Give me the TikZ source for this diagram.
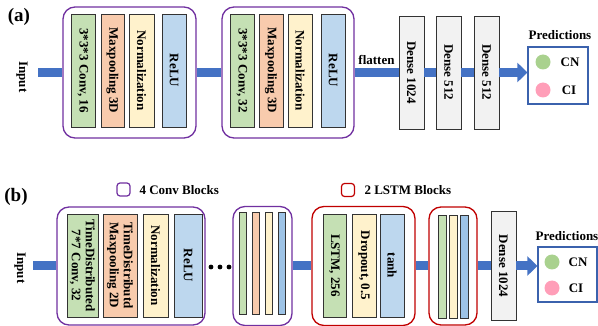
\documentclass[tikz,border=0pt]{standalone}
\usepackage{fontspec}
\setmainfont{Liberation Serif}
\usetikzlibrary{arrows.meta,positioning}

\definecolor{convg}{HTML}{C5E0B4}
\definecolor{poolo}{HTML}{F8CBAD}
\definecolor{normy}{HTML}{FFF2CC}
\definecolor{relub}{HTML}{BDD7EE}
\definecolor{thinb}{HTML}{9DC3E6}
\definecolor{densg}{HTML}{F2F2F2}
\definecolor{blkp}{HTML}{7030A0}
\definecolor{blkr}{HTML}{C00000}
\definecolor{barb}{HTML}{4472C4}
\definecolor{predb}{HTML}{3B62AD}
\definecolor{dotg}{HTML}{A9D18E}
\definecolor{dotp}{HTML}{FF9EB8}

\begin{document}
\begin{tikzpicture}[x=1pt,y=-1pt,
            font=\bfseries\fontsize{13}{14}\selectfont,
            layer/.style={draw=black!80, line width=0.9pt, rotate=-90,
                          inner sep=0pt, align=center},
            thin/.style={draw=black!80, line width=0.9pt, inner sep=0pt,
                         minimum width=7.5pt},
            convblk/.style={draw=blkp, line width=1.3pt, rounded corners=12pt,
                            inner sep=0pt},
            lstmblk/.style={draw=blkr, line width=1.3pt, rounded corners=12pt,
                            inner sep=0pt},
            predbox/.style={draw=predb, line width=1.2pt, inner sep=0pt},
            bar/.style={draw=barb, line width=9pt},
            arr/.style={bar, -{Triangle[length=10pt,width=19pt]}}]

        \useasboundingbox (0,0) rectangle (598,326);

        % (a)
        \node (la) at (19,17) {\fontsize{19}{20}\selectfont (a)};
        \node[rotate=-90] (inputa) at (22,77) {Input};
        \coordinate (ina) at (38,72.5);

        \node[convblk, minimum width=133pt, minimum height=131pt] (blk1) at (129.5,72.5) {};
        \node[layer, fill=convg, minimum width=113pt, minimum height=24pt] (c1) at (83,70.5)  {3*3*3 Conv, 16};
        \node[layer, fill=poolo, minimum width=113pt, minimum height=23pt] (p1) at (112.5,70.5) {Maxpooling 3D};
        \node[layer, fill=normy, minimum width=113pt, minimum height=25pt] (n1) at (141.5,70.5) {Normalization};
        \node[layer, fill=relub, minimum width=113pt, minimum height=24pt] (r1) at (174,70.5) {ReLU};

        \node[convblk, minimum width=132pt, minimum height=131pt] (blk2) at (288,72.5) {};
        \node[layer, fill=convg, minimum width=113pt, minimum height=24pt] (c2) at (242,70.5) {3*3*3 Conv, 32};
        \node[layer, fill=poolo, minimum width=113pt, minimum height=24pt] (p2) at (271,70.5) {Maxpooling 3D};
        \node[layer, fill=normy, minimum width=113pt, minimum height=24pt] (n2) at (300,70.5) {Normalization};
        \node[layer, fill=relub, minimum width=113pt, minimum height=24pt] (r2) at (333,70.5) {ReLU};

        \node (flat) at (376.5,60) {flatten};
        \node[layer, fill=densg, minimum width=113pt, minimum height=25pt] (d1) at (411.5,72.5) {Dense 1024};
        \node[layer, fill=densg, minimum width=113pt, minimum height=25pt] (d2) at (448.5,72.5) {Dense 512};
        \node[layer, fill=densg, minimum width=113pt, minimum height=25pt] (d3) at (486.5,72.5) {Dense 512};

        \node (preda) at (560,35) {Predictions};
        \node[predbox, minimum width=60pt, minimum height=57pt] (pa) at (558,75.5) {};
        \fill[dotg] (543,62) circle (7.5);
        \fill[dotp] (543,90) circle (7.5);
        \node (cna) at (570,62) {CN};
        \node (cia) at (569,90) {CI};

        \draw[bar] (ina) -- (blk1);
        \draw[bar] (blk1) -- (blk2);
        \draw[bar] (blk2) -- (d1);
        \draw[bar] (d1) -- (d2);
        \draw[bar] (d2) -- (d3);
        \draw[arr] (d3.north) -- (d3.north -| pa.west);

        % (b)
        \node (lb) at (16,197) {\fontsize{19}{20}\selectfont (b)};
        \node[draw=blkp, line width=1.2pt, rounded corners=3pt, minimum size=13pt] (lgc) at (123.5,189.5) {};
        \node[anchor=west] (lgct) at (136,190) {4 Conv Blocks};
        \node[draw=blkr, line width=1.2pt, rounded corners=3pt, minimum size=13pt] (lgl) at (348,190) {};
        \node[anchor=west] (lglt) at (361,190) {2 LSTM Blocks};

        \node[rotate=-90] (inputb) at (20,268) {Input};
        \coordinate (inb) at (33,266);

        \node[convblk, minimum width=148pt, minimum height=118pt] (bb1) at (131,266) {};
        \node[layer, fill=convg, minimum width=103pt, minimum height=31pt] (tc) at (82.5,265.5) {TimeDistributed\\7*7 Conv, 32};
        \node[layer, fill=poolo, minimum width=103pt, minimum height=34pt] (tp) at (120,265.5) {TimeDistributd\\Maxpooling 2D};
        \node[layer, fill=normy, minimum width=103pt, minimum height=25pt] (tn) at (155.5,265.5) {Normalization};
        \node[layer, fill=relub, minimum width=103pt, minimum height=28pt] (tr) at (188,265.5) {ReLU};

        \foreach \x in {211,220,229}
            \fill (\x,267) circle (2.4);

        \node[convblk, minimum width=59pt, minimum height=119pt] (bb2) at (262.5,266) {};
        \foreach \c/\x in {convg/243,poolo/256,normy/269,thinb/282}
            \node[thin, fill=\c, minimum height=102pt] at (\x,263) {};

        \node[lstmblk, minimum width=103pt, minimum height=119pt] (lb1) at (363.5,266) {};
        \node[layer, fill=convg, minimum width=103pt, minimum height=23pt] (ls) at (334.5,265.5) {LSTM, 256};
        \node[layer, fill=normy, minimum width=103pt, minimum height=24pt] (dr) at (364,265.5) {Dropout, 0.5};
        \node[layer, fill=relub, minimum width=103pt, minimum height=24pt] (th) at (392,265.5) {tanh};

        \node[lstmblk, minimum width=48pt, minimum height=118pt] (lb2) at (453,266) {};
        \foreach \c/\x in {convg/442.5,normy/453.5,thinb/464.5}
            \node[thin, fill=\c, minimum height=103pt] at (\x,266.5) {};

        \node[layer, fill=densg, minimum width=109pt, minimum height=25pt] (db) at (503.5,266) {Dense 1024};

        \node (predb) at (567,236) {Predictions};
        \node[predbox, minimum width=59pt, minimum height=55pt] (pb) at (567.5,274.5) {};
        \fill[dotg] (552,262) circle (7.5);
        \fill[dotp] (552,288) circle (7.5);
        \node (cnb) at (578,262) {CN};
        \node (cib) at (576,288) {CI};

        \draw[bar] (inb) -- (bb1);
        \draw[bar] (bb2) -- (lb1);
        \draw[bar] (lb1) -- (lb2);
        \draw[bar] (lb2) -- (db);
        \draw[arr] (db.north) -- (db.north -| pb.west);

    \end{tikzpicture}
\end{document}
